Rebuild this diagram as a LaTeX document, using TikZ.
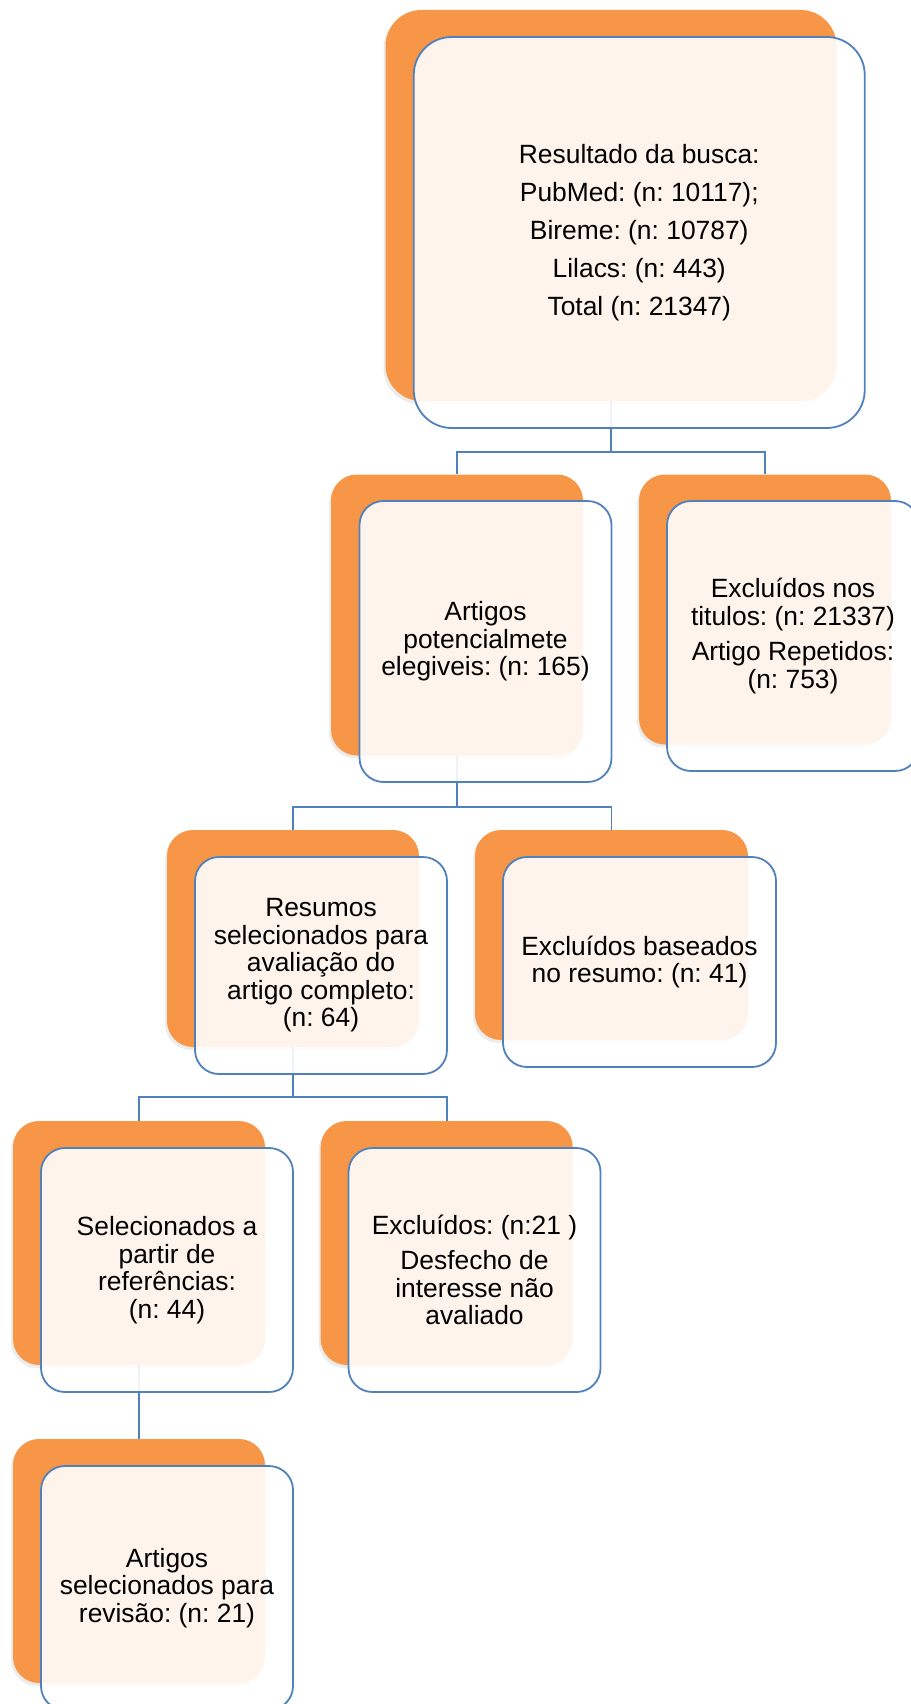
\documentclass[tikz,border=0pt]{standalone}
\usepackage{fontspec}
\setmainfont{Liberation Sans}
\usetikzlibrary{shadows}
\definecolor{saorange}{HTML}{F79646}
\definecolor{sablue}{HTML}{4F81BD}
\frenchspacing

\begin{document}
\begin{tikzpicture}[x=1pt, y=-1pt,
    back/.style={fill=saorange, rounded corners=26pt, inner sep=0pt,
      drop shadow={shadow xshift=-2pt, shadow yshift=-3pt, opacity=0.15}},
    front/.style={draw=sablue, line width=1.8pt, fill=white, fill opacity=0.9,
      text opacity=1, rounded corners=24pt, align=center, inner sep=0pt,
      font=\fontsize{26.4}{27.5}\selectfont},
    link/.style={draw=sablue, line width=1.8pt}
  ]
  \useasboundingbox (0,0) rectangle (910,1704);

  % orange backs
  \node[back, minimum width=451pt, minimum height=391pt, rounded corners=36pt] (busca-b) at (611,205.5) {};
  \node[back, minimum width=252pt, minimum height=281pt] (artigos-b) at (457,615) {};
  \node[back, minimum width=252pt, minimum height=270pt] (titulos-b) at (765,609.5) {};
  \node[back, minimum width=252pt, minimum height=217pt] (resumos-b) at (293,938.5) {};
  \node[back, minimum width=273pt, minimum height=210pt] (baseados-b) at (611.5,935) {};
  \node[back, minimum width=252pt, minimum height=244pt] (referencias-b) at (139,1243) {};
  \node[back, minimum width=252pt, minimum height=244pt] (desfecho-b) at (446.7,1243) {};
  \node[back, minimum width=252pt, minimum height=244pt] (revisao-b) at (139,1561) {};

  % connectors
  \draw[link] (busca-b.south) -- ++(0,51) -| (artigos-b.north);
  \draw[link] (busca-b.south) -- ++(0,51) -| (titulos-b.north);
  \draw[link] (artigos-b.south) -- ++(0,51) -| (resumos-b.north);
  \draw[link] (artigos-b.south) -- ++(0,51) -| (baseados-b.north);
  \draw[link] (resumos-b.south) -- ++(0,50) -| (referencias-b.north);
  \draw[link] (resumos-b.south) -- ++(0,50) -| (desfecho-b.north);
  \draw[link] (referencias-b.south) -- (revisao-b.north);

  % text boxes
  \node[front, minimum width=451pt, minimum height=391pt, rounded corners=38pt] (busca) at (639.25,232.5)
    {Resultado da busca:\\[10.5pt] PubMed: (n: 10117);\\[10.5pt] Bireme: (n: 10787)\\[10.5pt]
     Lilacs: (n: 443)\\[10.5pt] Total (n: 21347)};
  \node[front, minimum width=252pt, minimum height=281pt] (artigos) at (485.5,641.5)
    {Artigos\\ potencialmete\\ elegiveis: (n: 165)};
  \node[front, minimum width=252pt, minimum height=270pt] (titulos) at (793,636)
    {Excluídos nos\\ titulos: (n: 21337)\\[8pt] Artigo Repetidos:\\ (n: 753)};
  \node[front, minimum width=252pt, minimum height=217pt] (resumos) at (321,965.5)
    {Resumos\\ selecionados para\\ avaliação do\\ artigo completo:\\ (n: 64)};
  \node[front, minimum width=273pt, minimum height=210pt] (baseados) at (639.5,962)
    {Excluídos baseados\\ no resumo: (n: 41)};
  \node[front, minimum width=252pt, minimum height=244pt] (referencias) at (167,1270)
    {Selecionados a\\ partir de\\ referências:\\ (n: 44)};
  \node[front, minimum width=252pt, minimum height=244pt] (desfecho) at (474.5,1270)
    {Excluídos: (n:21 )\\[8pt] Desfecho de\\ interesse não\\ avaliado};
  \node[front, minimum width=252pt, minimum height=244pt] (revisao) at (167,1588)
    {Artigos\\ selecionados para\\ revisão: (n: 21)};
\end{tikzpicture}
\end{document}
